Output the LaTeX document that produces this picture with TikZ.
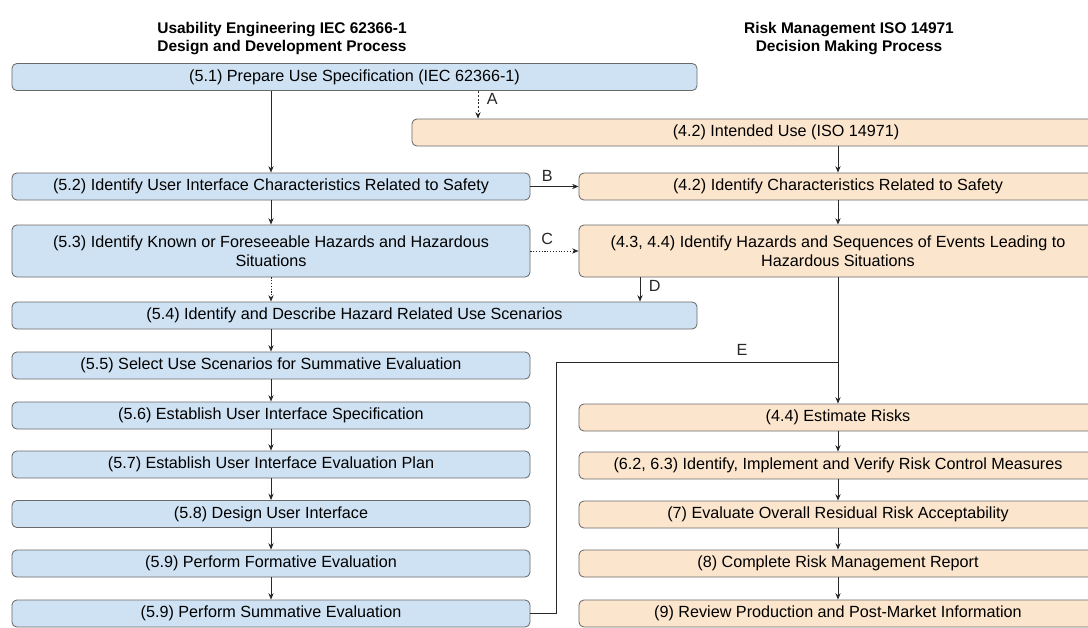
\documentclass[tikz,border=0pt]{standalone}
\usepackage{fontspec}
\setmainfont{Liberation Sans}
\usepackage{tikz}
\usetikzlibrary{positioning,arrows.meta,calc}
\usepackage{xcolor}
\definecolor{uefill}{RGB}{207,226,243}
\definecolor{rmfill}{RGB}{252,229,205}
\definecolor{boxline}{RGB}{105,105,105}
\definecolor{flowgray}{RGB}{40,40,40}

\begin{document}
\begin{tikzpicture}[
  x=0.25mm,y=-0.25mm,
  >={Stealth[length=1.6mm,width=1.3mm]},
  ue/.style={draw=boxline,line width=0.6pt,fill=uefill,rounded corners=1.2mm,inner sep=2pt,font=\fontsize{11.5}{13.5}\selectfont,align=center,minimum height=6.75mm},
  rm/.style={draw=boxline,line width=0.6pt,fill=rmfill,rounded corners=1.2mm,inner sep=2pt,font=\fontsize{11.5}{13.5}\selectfont,align=center,minimum height=6.75mm},
  title/.style={font=\bfseries\fontsize{11}{12.2}\selectfont,align=center},
  ar/.style={->,line width=0.6pt,flowgray},
  arda/.style={->,line width=0.6pt,flowgray,dash pattern=on 1.5pt off 1.2pt},
  ardo/.style={->,line width=0.6pt,flowgray,dash pattern=on 0.8pt off 1.2pt},
  ln/.style={line width=0.6pt,flowgray},
  edgelabel/.style={font=\fontsize{11.5}{13}\selectfont,inner sep=1pt}
]
\useasboundingbox (0,0) rectangle (1088,628);
\clip (0,0) rectangle (1088,628);

% Column titles
\node[title] (ueTitle) at (282,38.5) {Usability Engineering IEC 62366-1\\Design and Development Process};
\node[title] (rmTitle) at (849,38.5) {Risk Management ISO 14971\\Decision Making Process};

% Usability engineering column
\node[ue,minimum width=171.25mm] (ue51) at (354.5,77)  {(5.1) Prepare Use Specification (IEC 62366-1)};
\node[ue,minimum width=129.5mm]  (ue52) at (271,186.5) {(5.2) Identify User Interface Characteristics Related to Safety};
\node[ue,minimum width=129.5mm,minimum height=13mm] (ue53) at (271,251) {(5.3) Identify Known or Foreseeable Hazards and Hazardous\\Situations};
\node[ue,minimum width=171.25mm] (ue54) at (354.5,315.5) {(5.4) Identify and Describe Hazard Related Use Scenarios};
\node[ue,minimum width=129.5mm]  (ue55) at (271,365.5) {(5.5) Select Use Scenarios for Summative Evaluation};
\node[ue,minimum width=129.5mm]  (ue56) at (271,415.5) {(5.6) Establish User Interface Specification};
\node[ue,minimum width=129.5mm]  (ue57) at (271,464.5) {(5.7) Establish User Interface Evaluation Plan};
\node[ue,minimum width=129.5mm]  (ue58) at (271,514)   {(5.8) Design User Interface};
\node[ue,minimum width=129.5mm]  (ue59f) at (271,563.5) {(5.9) Perform Formative Evaluation};
\node[ue,minimum width=129.5mm]  (ue59s) at (271,613.5) {(5.9) Perform Summative Evaluation};

% Risk management column
\node[rm,minimum width=187mm]   (rm42a) at (786,132.5) {(4.2) Intended Use (ISO 14971)};
\node[rm,minimum width=129.5mm] (rm42b) at (838,186.5) {(4.2) Identify Characteristics Related to Safety};
\node[rm,minimum width=129.5mm,minimum height=13mm] (rm43) at (838,251) {(4.3, 4.4) Identify Hazards and Sequences of Events Leading to\\Hazardous Situations};
\node[rm,minimum width=129.5mm] (rm44) at (838,417.5) {(4.4) Estimate Risks};
\node[rm,minimum width=129.5mm] (rm62) at (838,465.5) {(6.2, 6.3) Identify, Implement and Verify Risk Control Measures};
\node[rm,minimum width=129.5mm] (rm7)  at (838,514.5) {(7) Evaluate Overall Residual Risk Acceptability};
\node[rm,minimum width=129.5mm] (rm8)  at (838,563.5) {(8) Complete Risk Management Report};
\node[rm,minimum width=129.5mm] (rm9)  at (838,613.5) {(9) Review Production and Post-Market Information};

% Helper columns for the cross links
\coordinate (colA) at (478,0);
\coordinate (colD) at (640,0);
\coordinate (bendE) at (556,362);
\coordinate (joinE) at (838,362);

% Left chain
\draw[ar] (ue51.south -| ue52.north) -- (ue52.north);
\draw[ar] (ue52.south) -- (ue53.north);
\draw[ardo] (ue53.south) -- (ue54.north -| ue53.south);
\draw[ar] (ue54.south -| ue55.north) -- (ue55.north);
\draw[ar] (ue55.south) -- (ue56.north);
\draw[ar] (ue56.south) -- (ue57.north);
\draw[ar] (ue57.south) -- (ue58.north);
\draw[ar] (ue58.south) -- (ue59f.north);
\draw[ar] (ue59f.south) -- (ue59s.north);

% Right chain
\draw[ar] (rm42a.south -| rm42b.north) -- (rm42b.north);
\draw[ar] (rm42b.south) -- (rm43.north);
\draw[ar] (rm43.south) -- (rm44.north);
\draw[ar] (rm44.south) -- (rm62.north);
\draw[ar] (rm62.south) -- (rm7.north);
\draw[ar] (rm7.south) -- (rm8.north);
\draw[ar] (rm8.south) -- (rm9.north);

% Links A--E
\draw[arda] (ue51.south -| colA) -- node[edgelabel,pos=0.3,right=5pt] (lblA) {A} (rm42a.north -| colA);
\draw[ar] (ue52.east) -- node[edgelabel,pos=0.35,above=2pt] (lblB) {B} (rm42b.west);
\draw[ardo] (ue53.east) -- node[edgelabel,pos=0.35,above=3pt] (lblC) {C} (rm43.west);
\draw[ar] (rm43.south -| colD) -- node[edgelabel,pos=0.35,right=5pt] (lblD) {D} (ue54.north -| colD);
\draw[ln] (ue59s.east) -| (bendE) -- node[edgelabel,pos=0.66,above=3pt] (lblE) {E} (joinE);
\end{tikzpicture}
\end{document}
